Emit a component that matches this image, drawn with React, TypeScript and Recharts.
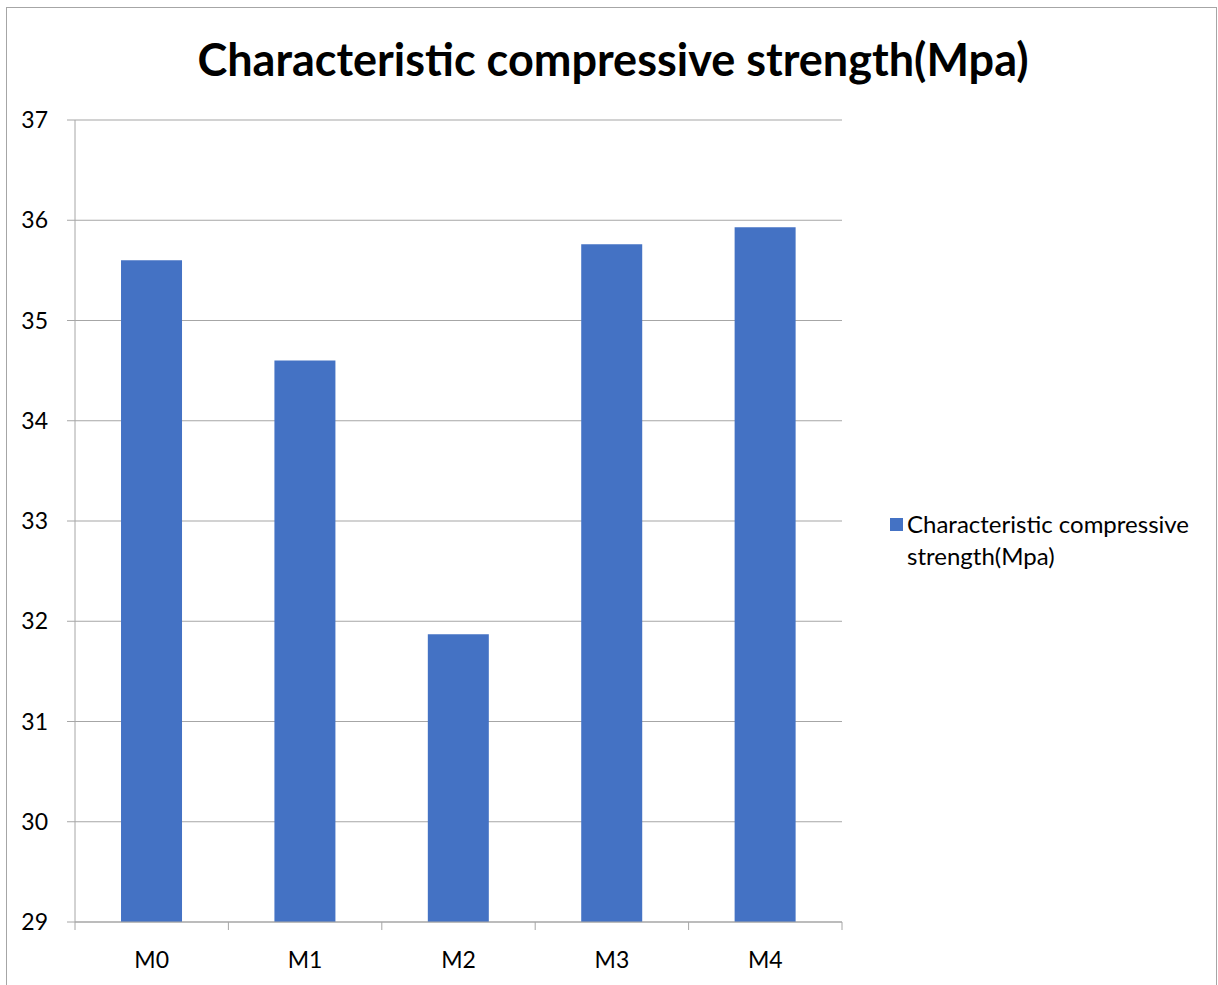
import { BarChart, Bar, XAxis, YAxis, CartesianGrid } from 'recharts';

const categories = ['M0', 'M1', 'M2', 'M3', 'M4'];
const strength = [35.6, 34.6, 31.87, 35.76, 35.93];
const yTicks = [29, 30, 31, 32, 33, 34, 35, 36, 37];

const seriesName = 'Characteristic compressive strength(Mpa)';
const data = categories.map((name, i) => ({ name, value: strength[i] }));

const FONT = 'Lato, "Open Sans", sans-serif';
const CHART_W = 1218;
const MARGIN = { top: 120, right: 376, left: 15, bottom: 23 };
const Y_AXIS_W = 60;
const PLOT_W = CHART_W - MARGIN.left - MARGIN.right - Y_AXIS_W;
const LABEL_OFFSET = 30;

// category label plus the tick marks between categories (Excel style)
const CategoryTick = (props: any) => {
  const { x, y, payload, index } = props;
  const step = PLOT_W / categories.length;
  const axisY = y - LABEL_OFFSET;
  return (
    <g>
      <line x1={x - step / 2} x2={x - step / 2} y1={axisY} y2={axisY + 8} stroke="#a6a6a6" />
      {index === categories.length - 1 && (
        <line x1={x + step / 2} x2={x + step / 2} y1={axisY} y2={axisY + 8} stroke="#a6a6a6" />
      )}
      <text x={x} y={y} dy="0.71em" textAnchor="middle" fill="#000" fontSize={23} fontFamily={FONT}>
        {payload.value}
      </text>
    </g>
  );
};

export default function App() {
  return (
    <div style={{ position: 'absolute', left: 0, top: 0, width: 1218, height: 985, background: '#fff', overflow: 'hidden' }}>
      {/* chart border */}
      <div style={{ position: 'absolute', left: 6, top: 7, width: 1209, height: 1000, border: '1px solid #a6a6a6' }} />
      <div
        style={{
          position: 'absolute', left: 0, top: 32, width: 1226, textAlign: 'center',
          fontFamily: FONT, fontWeight: 700, fontSize: 45, color: '#000', lineHeight: '54px',
        }}
      >
        {seriesName}
      </div>
      <div style={{ position: 'absolute', left: 0, top: 0 }}>
        <BarChart
          width={CHART_W}
          height={985}
          data={data}
          margin={MARGIN}
          barCategoryGap="30%"
        >
          <CartesianGrid vertical={false} stroke="#a6a6a6" strokeWidth={1.2} />
          <XAxis
            dataKey="name"
            height={40}
            tickLine={false}
            tickSize={0}
            tickMargin={LABEL_OFFSET}
            axisLine={{ stroke: '#a6a6a6' }}
            interval={0}
            tick={<CategoryTick />}
          />
          <YAxis
            domain={[29, 37]}
            ticks={yTicks}
            width={Y_AXIS_W}
            allowDataOverflow
            tickSize={8}
            tickMargin={19}
            axisLine={{ stroke: '#a6a6a6' }}
            tickLine={{ stroke: '#a6a6a6' }}
            tick={{ fill: '#000', fontSize: 23, fontFamily: FONT }}
          />
          <Bar dataKey="value" name={seriesName} fill="#4472C4" isAnimationActive={false} />
        </BarChart>
      </div>
      {/* legend */}
      <div
        style={{
          position: 'absolute', left: 890, top: 508, display: 'flex', alignItems: 'flex-start',
          fontFamily: FONT, fontSize: 24, color: '#000', lineHeight: '32px',
        }}
      >
        <div style={{ width: 13, height: 13, background: '#4472C4', marginTop: 10, marginRight: 4 }} />
        <div>
          Characteristic compressive
          <br />
          strength(Mpa)
        </div>
      </div>
    </div>
  );
}
